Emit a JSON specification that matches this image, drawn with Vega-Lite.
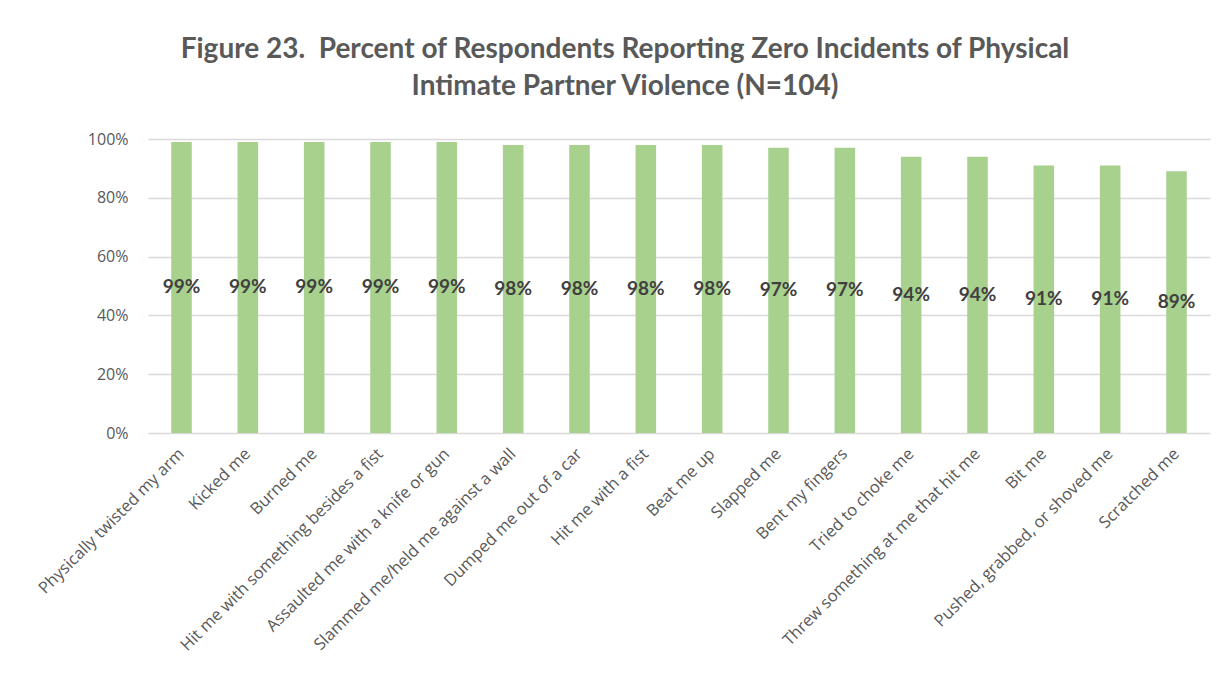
{
  "$schema": "https://vega.github.io/schema/vega-lite/v6.json",
  "width": 1062,
  "height": 294,
  "autosize": {"type": "none"},
  "padding": {"left": 148, "top": 139, "right": 15, "bottom": 244},
  "background": "white",
  "title": {
    "text": ["Figure 23.\u00a0 Percent of Respondents Reporting Zero Incidents of Physical", "Intimate Partner Violence (N=104)"],
    "font": "Lato",
    "fontSize": 28,
    "fontWeight": "bold",
    "color": "#595959",
    "lineHeight": 37,
    "anchor": "middle",
    "dx": -54,
    "offset": 30
  },
  "data": {
    "values": [
      {"item": "Physically twisted my arm", "pct": 0.99},
      {"item": "Kicked me", "pct": 0.99},
      {"item": "Burned me", "pct": 0.99},
      {"item": "Hit me with something besides a fist", "pct": 0.99},
      {"item": "Assaulted me with a knife or gun", "pct": 0.99},
      {"item": "Slammed me/held me against a wall", "pct": 0.98},
      {"item": "Dumped me out of a car", "pct": 0.98},
      {"item": "Hit me with a fist", "pct": 0.98},
      {"item": "Beat me up", "pct": 0.98},
      {"item": "Slapped me", "pct": 0.97},
      {"item": "Bent my fingers", "pct": 0.97},
      {"item": "Tried to choke me", "pct": 0.94},
      {"item": "Threw something at me that hit me", "pct": 0.94},
      {"item": "Bit me", "pct": 0.91},
      {"item": "Pushed, grabbed, or shoved me", "pct": 0.91},
      {"item": "Scratched me", "pct": 0.89}
    ]
  },
  "encoding": {
    "x": {
      "field": "item",
      "type": "nominal",
      "sort": null,
      "scale": {"paddingInner": 0.69, "paddingOuter": 0.35},
      "axis": {
        "title": null,
        "labelAngle": -45,
        "labelAlign": "right",
        "labelBaseline": "middle",
        "labelFont": "Open Sans",
        "labelFontSize": 16.5,
        "labelColor": "#595959",
        "labelPadding": 18,
        "labelLimit": 400,
        "ticks": false,
        "domain": false
      }
    }
  },
  "layer": [
    {
      "mark": {"type": "bar", "color": "#A9D18E"},
      "encoding": {
        "y": {
          "field": "pct",
          "type": "quantitative",
          "scale": {"domain": [0, 1]},
          "axis": {
            "title": null,
            "format": ".0%",
            "values": [0, 0.2, 0.4, 0.6, 0.8, 1],
            "labelFont": "Open Sans",
            "labelFontSize": 16,
            "labelColor": "#595959",
            "labelPadding": 20,
            "ticks": false,
            "domain": false,
            "gridColor": "#d9d9d9",
            "gridWidth": 1.3
          }
        }
      }
    },
    {
      "mark": {"type": "text", "font": "Lato", "fontSize": 19, "fontWeight": "bold", "color": "#404040", "baseline": "middle"},
      "encoding": {
        "y": {"field": "pct", "type": "quantitative", "scale": {"domain": [0, 2]}, "axis": null},
        "text": {"field": "pct", "type": "quantitative", "format": ".0%"}
      }
    }
  ],
  "resolve": {"scale": {"y": "independent"}},
  "config": {"view": {"stroke": null}}
}
